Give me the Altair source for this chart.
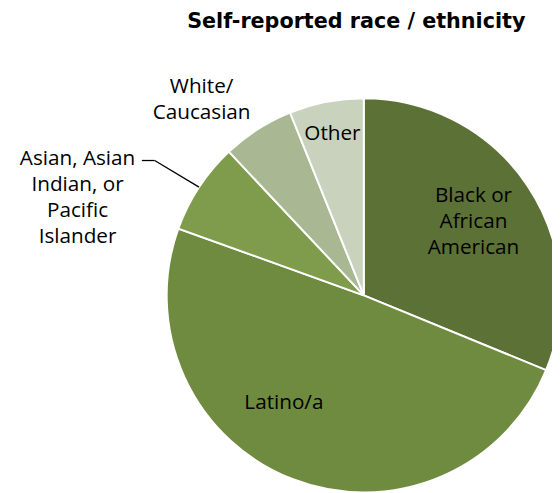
import altair as alt
import pandas as pd

categories = ["Black or African American", "Latino/a",
              "Asian, Asian Indian, or Pacific Islander", "White/Caucasian", "Other"]
labels = ["Black or\nAfrican\nAmerican", "Latino/a",
          "Asian, Asian\nIndian, or\nPacific\nIslander", "White/\nCaucasian", "Other"]
values = [31.2, 49.3, 7.5, 5.9, 6.1]
colors = ["#5c7135", "#6f8b40", "#7e9c4c", "#a9b893", "#c8d2bd"]

df = pd.DataFrame({"category": categories, "label": labels,
                   "value": values, "order": list(range(len(values)))})

CX, CY, R = 361, 248, 200
FONT = "Open Sans"
LH = 26.5

base = alt.Chart(df).encode(
    theta=alt.Theta("value:Q", stack=True),
    order=alt.Order("order:Q"),
)

pie = base.mark_arc(radius=R, stroke="white", strokeWidth=2).encode(
    color=alt.Color("category:N", scale=alt.Scale(domain=categories, range=colors), legend=None),
    x=alt.value(CX), y=alt.value(CY),
)


def label_layer(i, radius, dx=0, dy=0):
    cat = categories[i]
    n_lines = labels[i].count("\n") + 1
    return base.transform_calculate(
        lab=f"datum.category === '{cat}' ? datum.label : ''"
    ).mark_text(
        radius=radius, dx=dx, dy=dy - (n_lines - 1) * LH / 2, font=FONT, fontSize=21,
        lineHeight=LH, lineBreak="\n", align="center", baseline="middle", color="black",
    ).encode(text="lab:N", x=alt.value(CX), y=alt.value(CY))


lab_black = label_layer(0, 134)
lab_latino = label_layer(1, 117, dx=-39)
lab_asian = label_layer(2, 180, dx=-140)
lab_white = label_layer(3, 235, dx=-38)
lab_other = label_layer(4, 167)

leader = alt.Chart(df).transform_window(
    cum="sum(value)", sort=[alt.SortField("order")], frame=[None, 0]
).transform_joinaggregate(total="sum(value)").transform_calculate(
    mid="(datum.cum - datum.value/2) / datum.total * 2 * PI"
).transform_filter(
    alt.datum.category == categories[2]
).transform_calculate(
    ex=f"{CX} + {R} * sin(datum.mid)",
    ey=f"{CY} - {R} * cos(datum.mid)",
).transform_calculate(
    kx="datum.ex - 45", ky="datum.ey - 27"
).transform_calculate(
    tx="datum.kx - 13"
)

rule1 = leader.mark_rule(color="black", strokeWidth=1.3).encode(
    x=alt.X("ex:Q", scale=None, axis=None), y=alt.Y("ey:Q", scale=None, axis=None),
    x2="kx:Q", y2="ky:Q")
rule2 = leader.mark_rule(color="black", strokeWidth=1.3).encode(
    x=alt.X("kx:Q", scale=None, axis=None), y=alt.Y("ky:Q", scale=None, axis=None),
    x2="tx:Q", y2="ky:Q")

chart = alt.layer(pie, rule1, rule2, lab_black, lab_latino, lab_asian, lab_white, lab_other).properties(
    width=552, height=445,
    autosize=alt.AutoSizeParams(type="none"),
    padding={"left": 0, "top": 40, "right": 0, "bottom": 0},
    title=alt.TitleParams("Self-reported race / ethnicity", anchor="end", frame="group",
                          dx=-27, dy=-8, fontSize=21, font="DejaVu Sans", fontWeight="bold",
                          color="black"),
).configure_view(stroke=None)

chart.save("out.html", embed_options={"renderer": "svg", "actions": False})
